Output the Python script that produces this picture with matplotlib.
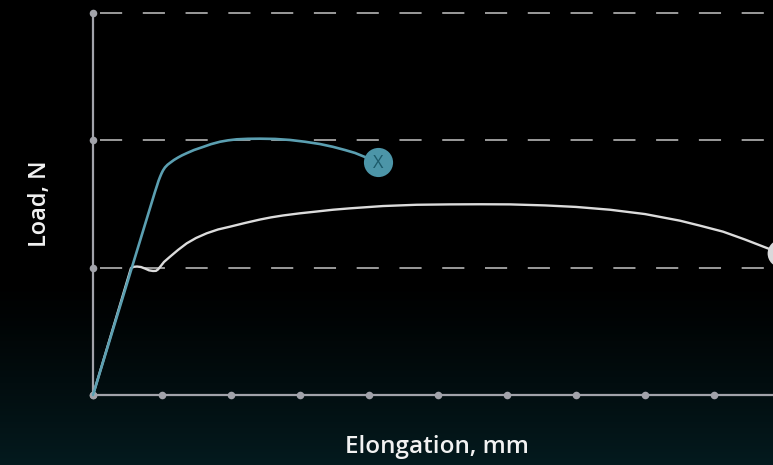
import matplotlib
matplotlib.use("Agg")
import matplotlib.pyplot as plt
import numpy as np
from matplotlib.colors import LinearSegmentedColormap

# tensile test curves: elongation (mm) vs load
blue_x = [0.0, 0.899, 0.928, 0.949, 0.971, 0.993, 1.014, 1.043, 1.080, 1.116,
          1.174, 1.232, 1.290, 1.358, 1.464, 1.594, 1.710, 1.841, 1.957,
          2.083, 2.246, 2.420, 2.638, 2.855, 3.072, 3.290, 3.478, 3.652,
          3.797, 3.942, 4.130]
blue_y = [0.0, 1.597, 1.645, 1.681, 1.712, 1.740, 1.763, 1.787, 1.808, 1.823,
          1.846, 1.865, 1.882, 1.899, 1.924, 1.948, 1.970, 1.989, 2.000,
          2.008, 2.012, 2.013, 2.011, 2.003, 1.989, 1.971, 1.949, 1.924,
          1.901, 1.869, 1.830]

white_x = [0.0, 0.551, 0.594, 0.638, 0.696, 0.754, 0.812, 0.870, 0.913,
           0.942, 0.971, 1.029, 1.116, 1.232, 1.358, 1.493, 1.648, 1.812,
           1.986, 2.203, 2.420, 2.580, 2.754, 3.0, 3.242, 3.478, 3.725,
           4.203, 4.691, 5.174, 5.609, 6.043, 6.551, 7.0, 7.493, 8.0,
           8.507, 8.797, 9.13, 9.449, 9.768, 9.97]
white_y = [0.0, 0.997, 1.007, 1.009, 1.005, 0.993, 0.979, 0.974, 0.975,
           0.986, 1.005, 1.045, 1.086, 1.139, 1.191, 1.233, 1.270, 1.300,
           1.322, 1.351, 1.378, 1.395, 1.410, 1.427, 1.441, 1.455, 1.466,
           1.484, 1.494, 1.497, 1.498, 1.497, 1.489, 1.477, 1.455, 1.421,
           1.369, 1.330, 1.283, 1.221, 1.154, 1.115]

x_ticks = [0, 1, 2, 3, 4, 5, 6, 7, 8, 9]
y_ticks = [0, 1, 2, 3]

fig = plt.figure(figsize=(7.73, 4.65), dpi=100)
ax = fig.add_axes([0, 0, 1, 1])
x0, x1 = -93 / 69, 680 / 69
y0, y1 = -70 / 127.33, 395 / 127.33
ax.set_xlim(x0, x1)
ax.set_ylim(y0, y1)
ax.axis("off")

# background: black fading into dark teal at the bottom (row 0 = top)
t = np.linspace(0, 1, 400)
g = np.clip((t - 0.6) / 0.4, 0, 1) ** 1.2
cmap = LinearSegmentedColormap.from_list("bg", ["#000000", "#041a1e"])
ax.imshow(g[:, None], extent=[x0, x1, y0, y1], aspect="auto", cmap=cmap,
          vmin=0, vmax=1, zorder=0, origin="upper")

axis_col = "#a2a3aa"
# dashed grid
for yv in y_ticks[1:]:
    ax.plot([0.1, x1], [yv, yv], color="#c4c4c4", lw=1.1,
            dashes=(14.5, 13.5), dash_capstyle="butt", zorder=1)

# axes with dot ticks
ax.plot([0, 0], [0, 3], color=axis_col, lw=1.6, zorder=2)
ax.plot([0, x1], [0, 0], color=axis_col, lw=1.6, zorder=2)
ax.scatter(x_ticks, [0] * len(x_ticks), s=30, color=axis_col, zorder=3, lw=0)
ax.scatter([0] * len(y_ticks), y_ticks, s=30, color=axis_col, zorder=3, lw=0)

# curves
ax.plot(white_x, white_y, color="#dcdcdc", lw=1.7, zorder=4,
        solid_capstyle="round", solid_joinstyle="round")
ax.plot(blue_x, blue_y, color="#5b9fb1", lw=1.9, zorder=5,
        solid_capstyle="round", solid_joinstyle="round")

# end-of-test markers
ax.plot(blue_x[-1], blue_y[-1], "o", ms=21, color="#4c95a8", mec="none", zorder=6)
ax.text(blue_x[-1], blue_y[-1] - 0.01, "X", color="#1c5a6a", fontsize=13,
        ha="center", va="center", family="Open Sans", zorder=7)
ax.plot(white_x[-1], white_y[-1], "o", ms=20, color="#d9d9db", mec="none", zorder=6)

ax.text(-53 / 69, 1.5, "Load, N", rotation=90, color="#f2f2f2", fontsize=17,
        ha="center", va="center", family="Open Sans", weight="semibold")
ax.text(344 / 69, -52 / 127.33, "Elongation, mm", color="#f2f2f2", fontsize=17.5,
        ha="center", va="center", family="Open Sans", weight="semibold")

fig.savefig("out.png", dpi=100, facecolor="black")
